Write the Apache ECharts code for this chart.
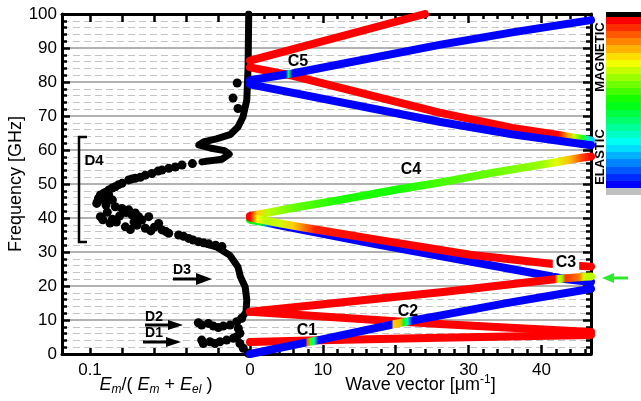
<!DOCTYPE html>
<html>
<head>
<meta charset="utf-8">
<script src="https://cdn.jsdelivr.net/npm/echarts@6/dist/echarts.min.js"></script>
<style>
  html, body { margin: 0; padding: 0; background: #fff; }
  #chart { width: 641px; height: 401px; }
</style>
</head>
<body>
<div id="chart"></div>
<script>
// left panel: magnetic energy fraction Em/(Em+Eel) against frequency [GHz]
const ratioCurveLow = [
  [0.0052, 10.5], [0.0025, 12.4], [0.002, 15.9], [0.003, 19.7], [0.006, 22.7],
  [0.0075, 25.6], [0.0125, 29.0], [0.021, 31.5], [0.032, 33.0]
];
const ratioCurveHigh = [
  [0.030, 56.5], [0.0175, 57.3], [0.013, 58.8], [0.016, 59.8], [0.025, 60.6],
  [0.032, 61.5], [0.029, 62.4], [0.021, 63.3], [0.0125, 64.5], [0.0075, 66.8],
  [0.0044, 69.7], [0.002, 74.7], [0.0012, 84.4], [0.0008, 100]
];
const ratioDotsD4 = [
  [0.0425, 55.6], [0.0508, 54.6], [0.055, 54.1], [0.0613, 53.1], [0.0654, 52.6],
  [0.0717, 51.7], [0.0758, 51.2], [0.080, 50.2], [0.0842, 49.2], [0.0883, 48.2],
  [0.0914, 47.3], [0.0946, 45.8], [0.0925, 46.3], [0.0883, 46.8], [0.0958, 44.3],
  [0.0467, 55.0], [0.0575, 53.8], [0.0685, 52.0], [0.0738, 51.5], [0.0821, 49.8],
  [0.0862, 48.8], [0.0935, 46.8], [0.090, 47.6], [0.095, 45.2], [0.036, 56.0],
  [0.0904, 44.8], [0.086, 45.3], [0.0842, 43.3], [0.080, 42.8], [0.0758, 42.4],
  [0.0892, 41.7], [0.0815, 40.6], [0.0738, 40.9], [0.0696, 40.4], [0.0935, 40.4],
  [0.086, 39.6], [0.0675, 39.4], [0.0633, 40.4], [0.0875, 38.5], [0.0725, 38.8],
  [0.0779, 37.4], [0.0706, 37.9], [0.0654, 37.0], [0.0571, 38.4], [0.062, 36.2],
  [0.090, 43.8], [0.0775, 41.6], [0.0717, 41.5], [0.092, 39.5], [0.0835, 38.8],
  [0.0748, 36.6], [0.0598, 37.3], [0.0525, 36.0], [0.0415, 34.6], [0.0355, 33.5],
  [0.055, 36.5], [0.0508, 35.5], [0.0446, 35.0], [0.0383, 34.0], [0.0321, 33.0],
  [0.0258, 32.4], [0.0175, 31.6], [0.029, 32.7], [0.0215, 32.0]
];
const ratioDotsLow = [
  [0.0302, 4.1], [0.0292, 3.1], [0.025, 3.6], [0.0219, 3.1], [0.0188, 3.6],
  [0.0146, 4.1], [0.0104, 4.6], [0.0083, 5.1], [0.0063, 6.1], [0.0073, 7.5],
  [0.0063, 3.1], [0.0042, 1.7], [0.001, 0.2],
  [0.0323, 9.2], [0.0302, 8.5], [0.026, 9.0], [0.0229, 8.2], [0.0198, 7.8],
  [0.0167, 8.2], [0.0125, 8.5], [0.0083, 9.5], [0.0052, 10.5]
];
const ratioDotsHigh = [[0.008, 79.7], [0.0106, 75.3], [0.0075, 72.2]];

// right panel: folded branches, [wave vector, frequency, magnetic fraction 0..1]
const branchA = [[0, 3.5, 1], [8.2, 4.0, 1], [26, 4.8, 1], [46.8, 5.6, 1]];
const branchB = [[0, 12.4, 1], [21, 9.5, 1], [26, 8.8, 1], [46.8, 6.5, 1]];
const branchL = [
  [0, 0, 0], [7.6, 3.35, 0], [7.9, 3.5, 0.9], [8.3, 3.65, 0.55], [8.8, 3.85, 0.35],
  [9.4, 4.1, 0], [19.4, 8.6, 0], [19.7, 8.75, 0.8], [20.6, 9.15, 0.82],
  [21.1, 9.35, 0.5], [21.6, 9.55, 0.33], [22.3, 9.85, 0], [26, 11.3, 0],
  [35, 14.9, 0], [46.8, 19.2, 0]
];
const branchD = [[0, 39.5, 0.5], [1.5, 38.9, 0.45], [2.5, 38.5, 0.1], [3.5, 38.1, 0], [17.2, 32.3, 0], [30.2, 27.2, 0], [43.5, 22.0, 0], [46.8, 21.2, 0]];
const branchE = [
  [0, 40.1, 1], [1, 39.7, 0.75], [2, 39.3, 0.68], [3.9, 38.5, 0.7], [6, 37.7, 0.8],
  [9, 36.6, 0.97], [17.2, 33.7, 1], [30.2, 29.2, 1], [42.2, 26.3, 1], [46.8, 25.7, 1]
];
const branchC = [
  [0, 12.4, 1], [26.8, 18.3, 1], [41.8, 22.0, 1], [42.3, 22.1, 0.68], [42.8, 22.2, 0.65],
  [43.3, 22.3, 0.95], [45.2, 22.6, 0.88], [45.8, 22.7, 0.7], [46.8, 22.8, 0.68]
];
const branchF = [
  [0, 40.6, 1], [1, 41.0, 0.8], [2.5, 41.6, 0.68], [6, 43.0, 0.6], [12, 45.2, 0.53],
  [20, 48.3, 0.52], [26, 50.4, 0.57], [33, 53.2, 0.6], [40, 55.7, 0.65],
  [42, 56.4, 0.72], [44, 57.2, 0.82], [45.5, 57.7, 0.93], [46.8, 58.1, 1]
];
const branchG = [[0, 86.3, 1], [24, 100, 1]];
const branchH = [
  [0, 84.3, 1], [5.5, 82.0, 1], [26, 71.0, 1], [36, 66.5, 1], [42.3, 64.4, 1],
  [43.5, 64.0, 0.85], [44.5, 63.6, 0.7], [45.5, 63.3, 0.55], [46.3, 63.0, 0.35], [46.8, 62.8, 0.2]
];
const branchI = [[0, 80.5, 0], [4.9, 82.2, 0], [5.3, 82.35, 0.4], [5.8, 82.5, 0], [26, 90.9, 0], [36, 94.6, 0], [46.8, 98.2, 0]];
const branchJ = [[0, 79.3, 0], [26, 68.3, 0], [36, 64.6, 0], [46.8, 61.4, 0]];

// drawing order: later branches sit on top
const branches = [branchA, branchB, branchL, branchF, branchD, branchE, branchC, branchG, branchH, branchJ, branchI];

const kMax = 46.8;
const ratioMax = 0.1175;
const FONT = 'Liberation Sans, Arial, sans-serif';

// elastic (blue) -> magnetic (red)
function jet(m) {
  const h = 240 * (1 - Math.max(0, Math.min(1, m)));
  return 'hsl(' + h.toFixed(1) + ',100%,50%)';
}

// gradient along the wave vector axis, in pixels once the axis is laid out
function branchGradient(pts, toPx) {
  const k0 = pts[0][0], k1 = pts[pts.length - 1][0];
  return {
    type: 'linear', global: true, x: toPx(k0), y: 0, x2: toPx(k1), y2: 0,
    colorStops: pts.map(p => ({ offset: (p[0] - k0) / (k1 - k0), color: jet(p[2]) }))
  };
}

function branchSeries(pts) {
  return {
    type: 'line', xAxisIndex: 2, yAxisIndex: 1, silent: true, symbol: 'none',
    data: pts.map(p => [p[0], p[1]]),
    lineStyle: { width: 8, cap: 'round', join: 'round', color: jet(pts[0][2]) }
  };
}

// stepped colour bar
const barSteps = 24;
const barStops = [];
for (let i = 0; i < barSteps; i++) {
  const c = jet(1 - i / (barSteps - 1));
  barStops.push({ offset: i / barSteps, color: c }, { offset: (i + 1) / barSteps, color: c });
}

function arrow(tail, tip, headLen, y, half, color, w) {
  const dir = tip > tail ? 1 : -1;
  return [
    { type: 'line', z: 100, shape: { x1: tail, y1: y, x2: tip - dir * (headLen - 2), y2: y }, style: { stroke: color, lineWidth: w } },
    { type: 'polygon', z: 100, shape: { points: [[tip - dir * headLen, y - half], [tip, y], [tip - dir * headLen, y + half]] }, style: { fill: color } }
  ];
}
function label(text, x, y, size, extra) {
  return {
    type: 'text', z: 100, x: x, y: y, rotation: (extra && extra.rotation) || 0,
    style: Object.assign({ text: text, font: 'bold ' + size + 'px ' + FONT, fill: '#000', align: 'center', verticalAlign: 'middle' },
      (extra && extra.style) || {})
  };
}

const frameLine = { onZero: false, lineStyle: { color: '#000', width: 3 } };
const noLine = { show: false, onZero: false };
const tickStyle = { color: '#000', width: 2.5 };

const option = {
  animation: false,
  backgroundColor: '#fff',
  grid: [
    { left: 62, right: 391, top: 14, bottom: 47, outerBoundsMode: 'none' },
    { left: 250, right: 50, top: 14, bottom: 47, outerBoundsMode: 'none' }
  ],
  xAxis: [
    {
      gridIndex: 0, type: 'value', position: 'bottom', inverse: true, min: 0, max: ratioMax, interval: 0.02,
      axisLine: frameLine, axisTick: { inside: true, length: 6, lineStyle: tickStyle },
      splitLine: { show: false },
      axisLabel: { margin: 8, color: '#000', fontSize: 17, fontFamily: FONT, showMaxLabel: false,
        formatter: v => (Math.abs(v - 0.1) < 1e-6 ? '0.1' : '') },
      name: '{i|E}{s|m}{n|/( }{i|E}{s|m}{n| + }{i|E}{s|el}{n| )}',
      nameLocation: 'middle', nameGap: 20, nameMoveOverlap: false,
      nameTextStyle: {
        rich: {
          i: { fontFamily: FONT, fontStyle: 'italic', fontSize: 18, color: '#000', lineHeight: 22 },
          n: { fontFamily: FONT, fontSize: 18, color: '#000', lineHeight: 22 },
          s: { fontFamily: FONT, fontStyle: 'italic', fontSize: 12, color: '#000', lineHeight: 8, verticalAlign: 'bottom' }
        }
      }
    },
    {
      gridIndex: 0, type: 'value', position: 'top', inverse: true, min: 0, max: ratioMax, interval: 0.02,
      axisLine: frameLine, axisTick: { inside: true, length: 8, lineStyle: tickStyle },
      axisLabel: { show: false }, splitLine: { show: false }
    },
    {
      gridIndex: 1, type: 'value', position: 'bottom', min: 0, max: kMax, interval: 10,
      axisLine: frameLine, axisTick: { inside: true, length: 9, lineStyle: tickStyle },
      splitLine: { show: false },
      axisLabel: { margin: 8, color: '#000', fontSize: 17, fontFamily: FONT, showMaxLabel: false,
        formatter: v => (Math.abs(v % 10) < 1e-6 ? String(v) : '') },
      name: 'Wave vector [\u03bcm{sup|-1}]',
      nameLocation: 'middle', nameGap: 20, nameMoveOverlap: false,
      nameTextStyle: {
        fontFamily: FONT, fontSize: 18, color: '#000', lineHeight: 22,
        rich: { sup: { fontFamily: FONT, fontSize: 12, color: '#000', lineHeight: 8, verticalAlign: 'top' } }
      }
    },
    {
      gridIndex: 1, type: 'value', position: 'bottom', min: 0, max: kMax, interval: 2,
      axisLine: noLine, axisTick: { inside: true, length: 5, lineStyle: tickStyle },
      axisLabel: { show: false }, splitLine: { show: false }
    },
    {
      gridIndex: 1, type: 'value', position: 'top', min: 0, max: kMax, interval: 10,
      axisLine: frameLine, axisTick: { inside: true, length: 9, lineStyle: tickStyle },
      axisLabel: { show: false }, splitLine: { show: false }
    },
    {
      gridIndex: 1, type: 'value', position: 'top', min: 0, max: kMax, interval: 2,
      axisLine: noLine, axisTick: { inside: true, length: 5, lineStyle: tickStyle },
      axisLabel: { show: false }, splitLine: { show: false }
    }
  ],
  yAxis: [
    {
      gridIndex: 0, type: 'value', position: 'left', min: 0, max: 100, interval: 10,
      axisLine: frameLine, axisTick: { inside: true, length: 8, lineStyle: tickStyle },
      minorTick: { show: true, splitNumber: 5, length: 5, lineStyle: tickStyle },
      splitLine: { lineStyle: { color: '#999', width: 1.5 } },
      minorSplitLine: { show: true, lineStyle: { color: '#c4c4c4', width: 1.2, type: [7, 4] } },
      axisLabel: { margin: 5, color: '#000', fontSize: 17, fontFamily: FONT },
      name: 'Frequency [GHz]', nameLocation: 'middle', nameGap: 37, nameRotate: 90, nameMoveOverlap: false,
      nameTextStyle: { fontFamily: FONT, fontSize: 18, color: '#000' }
    },
    {
      gridIndex: 1, type: 'value', position: 'right', min: 0, max: 100, interval: 10,
      axisLine: frameLine, axisTick: { inside: true, length: 8, lineStyle: tickStyle },
      minorTick: { show: true, splitNumber: 5, length: 5, lineStyle: tickStyle },
      splitLine: { lineStyle: { color: '#999', width: 1.5 } },
      minorSplitLine: { show: true, lineStyle: { color: '#c4c4c4', width: 1.2, type: [7, 4] } },
      axisLabel: { show: false }
    }
  ],
  series: [
    { type: 'line', xAxisIndex: 0, yAxisIndex: 0, silent: true, symbol: 'none', data: ratioCurveLow,
      lineStyle: { color: '#000', width: 7, cap: 'round', join: 'round' } },
    { type: 'line', xAxisIndex: 0, yAxisIndex: 0, silent: true, symbol: 'none', data: ratioCurveHigh,
      lineStyle: { color: '#000', width: 7, cap: 'round', join: 'round' } },
    { type: 'scatter', xAxisIndex: 0, yAxisIndex: 0, silent: true, symbolSize: 9,
      data: ratioDotsD4.concat(ratioDotsLow, ratioDotsHigh), itemStyle: { color: '#000', opacity: 1 } }
  ].concat(branches.map(branchSeries)),
  graphic: [
    { type: 'rect', z: 100, shape: { x: 606, y: 12, width: 40, height: 5 }, style: { fill: '#000' } },
    { type: 'rect', z: 100, shape: { x: 606, y: 17, width: 40, height: 171 },
      style: { fill: { type: 'linear', x: 0, y: 0, x2: 0, y2: 1, colorStops: barStops } } },
    { type: 'rect', z: 100, shape: { x: 606, y: 188, width: 40, height: 7 }, style: { fill: '#c0c0c0' } },
    label('MAGNETIC', 600, 57, 13, { rotation: Math.PI / 2 }),
    label('ELASTIC', 600, 157, 13, { rotation: Math.PI / 2 }),
    ...arrow(628, 602, 12, 278, 5, '#2ee82e', 3),
    label('C5', 298, 62, 16),
    label('C4', 411, 170, 16),
    label('C3', 566, 263, 16, { style: { backgroundColor: '#fff', padding: [2, 3] } }),
    label('C2', 408, 312, 16),
    label('C1', 307, 331, 16),
    label('D4', 94, 161, 15),
    label('D3', 182, 270, 14),
    label('D2', 154, 317, 14),
    label('D1', 154, 333, 14),
    ...arrow(173, 212, 16, 279, 6, '#000', 3),
    ...arrow(145, 183, 15, 325, 5, '#000', 3),
    ...arrow(143, 181, 15, 342, 5, '#000', 3),
    { type: 'polyline', z: 100, shape: { points: [[87, 137], [79, 137], [79, 242], [87, 242]] },
      style: { stroke: '#000', lineWidth: 2.5, fill: null } }
  ]
};

const chart = echarts.init(document.getElementById('chart'));
chart.setOption(option);

// colour each branch by its magnetic fraction along the wave vector axis
const kToPx = k => chart.convertToPixel({ xAxisIndex: 2 }, k);
chart.setOption({
  series: option.series.map((s, i) => i < 3 ? {} :
    { lineStyle: { color: branchGradient(branches[i - 3], kToPx) } })
});
</script>
</body>
</html>
